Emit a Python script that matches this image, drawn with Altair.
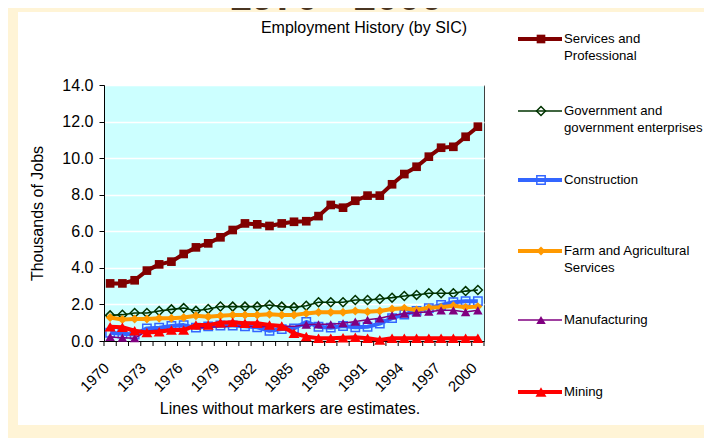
import altair as alt
import pandas as pd

# ---------------- data ----------------
years = list(range(1970, 2001))
label_years = list(range(1970, 2001, 3))

series_names = [
    "Services and Professional",
    "Government and government enterprises",
    "Construction",
    "Farm and Agricultural Services",
    "Manufacturing",
    "Mining",
]
legend_lines = [
    ["Services and", "Professional"],
    ["Government and", "government enterprises"],
    ["Construction"],
    ["Farm and Agricultural", "Services"],
    ["Manufacturing"],
    ["Mining"],
]

services = [3.15, 3.15, 3.32, 3.85, 4.19, 4.34, 4.76, 5.12, 5.34, 5.67,
            6.07, 6.43, 6.38, 6.29, 6.43, 6.52, 6.55, 6.83, 7.44, 7.29,
            7.67, 7.95, 7.95, 8.57, 9.13, 9.53, 10.08, 10.57, 10.62, 11.17, 11.72]
government = [1.40, 1.44, 1.53, 1.53, 1.64, 1.73, 1.80, 1.65, 1.75, 1.89,
              1.88, 1.88, 1.88, 1.97, 1.88, 1.84, 1.93, 2.12, 2.12, 2.12,
              2.24, 2.24, 2.30, 2.37, 2.46, 2.52, 2.61, 2.61, 2.61, 2.73, 2.79]
construction = [0.45, 0.40, 0.35, 0.69, 0.73, 0.82, 0.87, 0.73, 0.80, 0.85,
                0.85, 0.80, 0.75, 0.56, 0.65, 0.69, 1.04, 0.78, 0.73, 0.82,
                0.75, 0.78, 0.95, 1.25, 1.45, 1.65, 1.80, 1.97, 2.12, 2.18, 2.18]
farm = [1.29, 1.18, 1.20, 1.20, 1.24, 1.24, 1.29, 1.38, 1.33, 1.38,
        1.42, 1.42, 1.42, 1.46, 1.42, 1.42, 1.51, 1.57, 1.57, 1.57,
        1.64, 1.60, 1.64, 1.75, 1.79, 1.70, 1.82, 1.84, 1.93, 1.84, 1.88]
manufacturing = [0.22, 0.18, 0.15, 0.55, 0.60, 0.65, 0.70, 0.72, 0.75, 0.78,
                 0.80, 0.80, 0.78, 0.78, 0.80, 0.80, 0.89, 0.91, 0.91, 0.97,
                 1.06, 1.16, 1.24, 1.40, 1.50, 1.55, 1.60, 1.68, 1.68, 1.58, 1.68]
mining = [0.78, 0.75, 0.56, 0.47, 0.51, 0.60, 0.60, 0.87, 0.87, 1.00,
          1.02, 0.97, 0.97, 0.87, 0.82, 0.42, 0.24, 0.15, 0.15, 0.18,
          0.20, 0.15, 0.05, 0.15, 0.15, 0.15, 0.15, 0.15, 0.15, 0.15, 0.15]
# years drawn as estimates (line without markers)
manufacturing_estimates = list(range(1973, 1986))

series_values = [services, government, construction, farm, manufacturing, mining]
series_estimates = [[], [], [], [], manufacturing_estimates, []]

# ---------------- styles ----------------
FONT = "Liberation Sans"
CREAM = "#FFF4D6"
styles = [
    dict(color="#800000", width=4.0, shape="square", filled=True, size=75, sw=1),
    dict(color="#003300", width=1.6, shape="diamond", filled=False, size=80, sw=1.5),
    dict(color="#3366FF", width=4.0, shape="square", filled=False, size=70, sw=1.5),
    dict(color="#FF9900", width=4.0, shape="diamond", filled=True, size=80, sw=1),
    dict(color="#800080", width=1.5, shape="triangle-up", filled=True, size=90, sw=1),
    dict(color="#FF0000", width=4.0, shape="triangle-up", filled=True, size=120, sw=1),
]

PX0, PY0 = 104, 85          # page position of plot origin
W, H = 380, 256


def px(x):
    return x - PX0


def py(y):
    return y - PY0


dummy = pd.DataFrame({"k": [0]})

xscale = alt.Scale(domain=[1969.5, 2000.5], nice=False, zero=False)
yscale = alt.Scale(domain=[0, 14], nice=False)

xaxis = alt.Axis(values=label_years, format="d", labelAngle=-45, labelAlign="right",
                 labelBaseline="middle", ticks=False, tickSize=0, labelPadding=24,
                 labelOffset=-4, domain=True, domainColor="black", grid=False,
                 title=None, labelFont=FONT, labelFontSize=15, labelColor="black",
                 labelOverlap=False)
yaxis = alt.Axis(values=list(range(0, 15, 2)), format=".1f", tickSize=5,
                 tickColor="black", domainColor="black", grid=True,
                 gridColor="white", gridWidth=1.5, labelFont=FONT,
                 labelFontSize=16, labelColor="black", labelPadding=6,
                 title="Thousands of Jobs", titleFont=FONT, titleFontSize=16,
                 titleFontWeight="normal", titleColor="black", titlePadding=16)

X = alt.X("year:Q", scale=xscale, axis=xaxis)
Y = alt.Y("value:Q", scale=yscale, axis=yaxis)

layers = []

# cream page border strips
for (x1, x2, y1, y2) in [(0, 712, 0, 12), (0, 18, 0, 446), (0, 712, 425, 446)]:
    layers.append(alt.Chart(dummy).mark_rect(color=CREAM).encode(
        x=alt.value(px(x1)), x2=alt.value(px(x2)),
        y=alt.value(py(y1)), y2=alt.value(py(y2))))

# category tick marks at boundaries
ticks_df = pd.DataFrame({"year": [y - 0.5 for y in years] + [years[-1] + 0.5]})
layers.append(alt.Chart(ticks_df).mark_rule(color="black", strokeWidth=1).encode(
    x=X, y=alt.value(H), y2=alt.value(H + 5)))

# series
for name, vals, est, st in zip(series_names, series_values, series_estimates, styles):
    df = pd.DataFrame({"year": years, "value": vals})
    df["series"] = name
    layers.append(alt.Chart(df).mark_line(color=st["color"], strokeWidth=st["width"],
                                          strokeJoin="round").encode(x=X, y=Y))
    dfm = df[~df["year"].isin(est)]
    layers.append(alt.Chart(dfm).mark_point(shape=st["shape"], filled=st["filled"],
                                            size=st["size"], color=st["color"],
                                            strokeWidth=st["sw"], opacity=1).encode(x=X, y=Y))

# legend
legend_y = [39, 111, 180, 251, 320, 392]
for lines, st, ly in zip(legend_lines, styles, legend_y):
    layers.append(alt.Chart(dummy).mark_rule(color=st["color"], strokeWidth=st["width"]).encode(
        x=alt.value(px(518)), x2=alt.value(px(562)), y=alt.value(py(ly))))
    layers.append(alt.Chart(dummy).mark_point(shape=st["shape"], filled=st["filled"],
                                              size=st["size"], color=st["color"],
                                              strokeWidth=st["sw"], opacity=1).encode(
        x=alt.value(px(541)), y=alt.value(py(ly))))
    for j, t in enumerate(lines):
        layers.append(alt.Chart(dummy).mark_text(text=t, font=FONT, fontSize=13.2, align="left",
                                                 baseline="middle", color="black").encode(
            x=alt.value(px(564)), y=alt.value(py(ly + 17 * j))))

# titles / notes
layers.append(alt.Chart(dummy).mark_text(text="1970 - 2000", font=FONT, fontSize=40,
                                         fontWeight="bold", color="#4A3521", align="center",
                                         baseline="alphabetic").encode(
    x=alt.value(px(336)), y=alt.value(py(10))))
layers.append(alt.Chart(dummy).mark_text(text="Employment History (by SIC)", font=FONT,
                                         fontSize=16, color="black", align="center",
                                         baseline="middle").encode(
    x=alt.value(px(364)), y=alt.value(py(28))))
layers.append(alt.Chart(dummy).mark_text(text="Lines without markers are estimates.", font=FONT,
                                         fontSize=16, color="black", align="center",
                                         baseline="middle").encode(
    x=alt.value(px(290)), y=alt.value(py(409))))

chart = alt.layer(*layers).properties(
    width=W, height=H, background="white",
    padding={"left": 96, "top": 77, "right": 220, "bottom": 97},
    autosize=alt.AutoSizeParams(type="none"),
).configure_view(fill="#CCFFFF", stroke="#404040", strokeWidth=1)

chart.save("out.html", embed_options={"renderer": "svg", "actions": False})
